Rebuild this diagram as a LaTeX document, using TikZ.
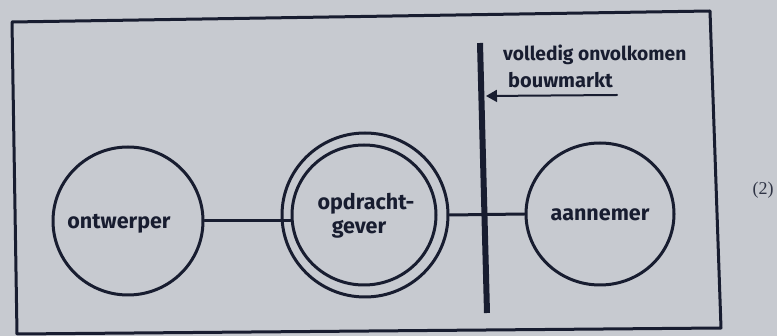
\documentclass[tikz,border=0pt]{standalone}
\usepackage{fontspec}
\setmainfont{Fira Sans}
\newfontfamily\eqfont{Liberation Serif}
\usetikzlibrary{shapes.geometric,arrows.meta}
\definecolor{paper}{RGB}{199,202,208}
\definecolor{ink}{RGB}{24,29,48}
\begin{document}
\begin{tikzpicture}[x=1pt,y=-1pt,
  line join=round,line cap=round,
  inkline/.style={draw=ink,line width=3pt},
  actor/.style={ellipse,draw=ink,line width=3pt,inner sep=0pt},
  hand/.style={text=ink,font=\fontsize{21.5}{23}\selectfont\bfseries},
  lbl/.style={text=ink,font=\fontsize{20}{22}\selectfont\bfseries,anchor=west,inner sep=0pt}]
\fill[paper] (0,0) rectangle (777,336);
\useasboundingbox (0,0) rectangle (777,336);
% frame
\draw[inkline] (12,22) -- (710,11) -- (721,328) -- (17,334) -- cycle;
% actors
\node[actor,minimum width=150pt,minimum height=148pt] (ontw) at (128,221) {};
\node[actor,minimum width=166pt,minimum height=164pt] (opdrout) at (365,215) {};
\node[actor,minimum width=144pt,minimum height=140pt] (opdrin) at (364,215) {};
\node[actor,minimum width=148pt,minimum height=142pt] (aann) at (600,214) {};
\node[hand] (tontw) at (119,224) {ontwerper};
\node[hand] (topdr1) at (366,204) {opdracht-};
\node[hand] (topdr2) at (359,229) {gever};
\node[hand] (taann) at (600,215) {aannemer};
% connectors
\draw[inkline] (ontw.east) -- (ontw.east -| opdrin.west);
\draw[inkline] (opdrout.east) -- (aann.west);
% market boundary
\coordinate (vt) at (480,43);
\coordinate (vb) at (487,313);
\draw[draw=ink,line width=6pt,line cap=butt] (vt) -- (vb);
\node[lbl,font=\fontsize{19.2}{21}\selectfont\bfseries] (t1) at (503,55) {volledig onvolkomen};
\node[lbl] (t2) at (508,80) {bouwmarkt};
\coordinate (as) at (617,95);
\coordinate (ae) at (486,96);
\draw[draw=ink,line width=2pt,-{Triangle[length=11pt,width=12pt]}] (as) -- (ae);
% equation number
\node[text=ink!90,font=\fontsize{18}{20}\selectfont\eqfont] (num) at (763,190) {(2)};
\end{tikzpicture}
\end{document}
